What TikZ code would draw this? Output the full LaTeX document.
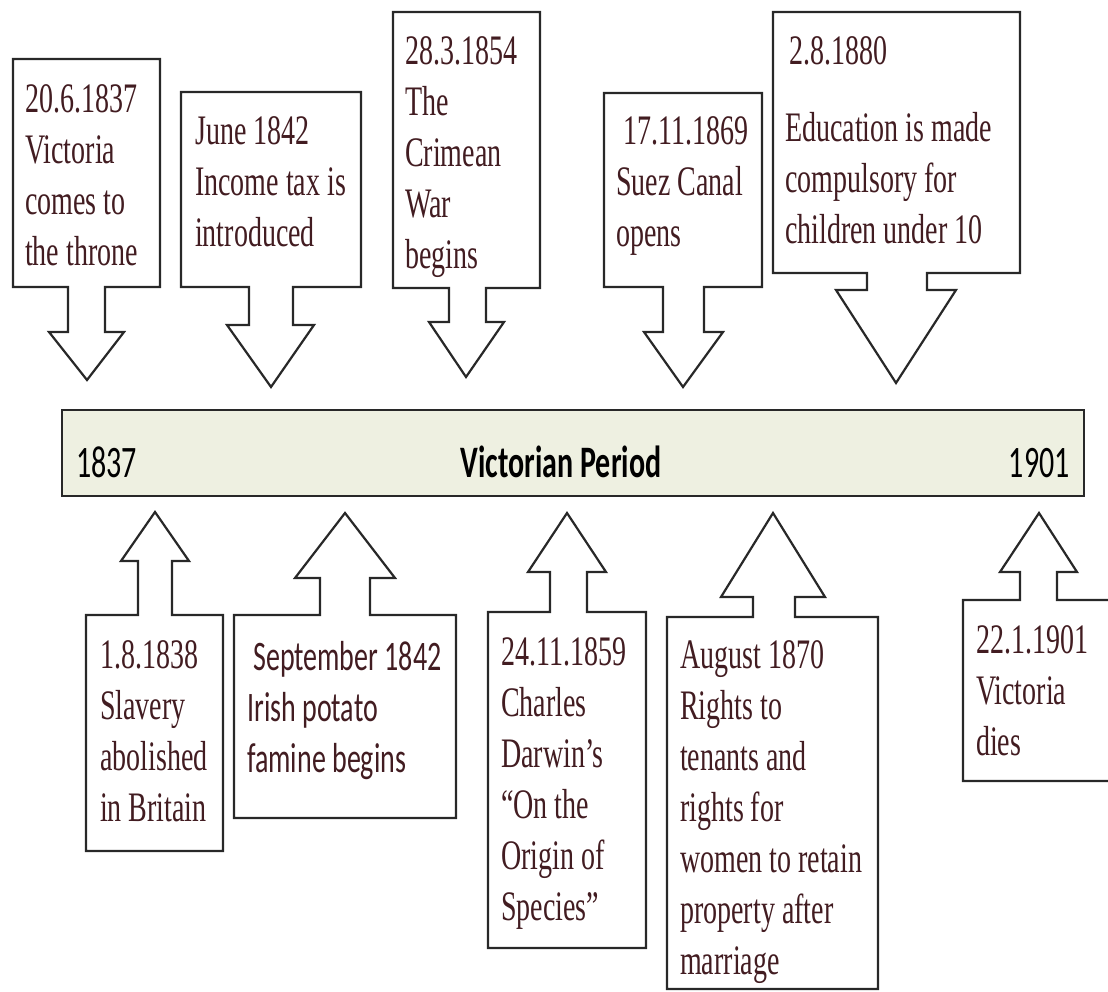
\documentclass[tikz,border=0pt]{standalone}
\usepackage{fontspec}
\setmainfont{Liberation Serif}
\newfontfamily\calfont{Carlito}
\usepackage{graphicx}

\definecolor{evtred}{RGB}{66,28,33}
\definecolor{bargreen}{RGB}{238,240,225}
\definecolor{edge}{RGB}{40,40,40}

% tall narrow lettering, as in the picture
\newcommand{\tall}[1]{\scalebox{1}[1.5]{\begin{tabular}[t]{@{}l@{}}#1\end{tabular}}}

\tikzset{
	callout/.style={draw=edge, line width=2.2pt, fill=white, line join=miter},
	evt/.style={anchor=base west, inner sep=0pt, text=evtred, font=\fontsize{28}{34}\selectfont},
	barlbl/.style={inner sep=0pt, font=\calfont\fontsize{30}{36}\selectfont}
}

\begin{document}
\begin{tikzpicture}[x=1pt, y=-1pt]
	\useasboundingbox (0,0) rectangle (1108,992);
	% time bar
	\draw[draw=edge, line width=2.2pt, fill=bargreen] (62,410) rectangle (1084,496);
	\node[barlbl, anchor=base west] (start) at (76,477) {\tall{1837}};
	\node[barlbl, anchor=base] (period) at (561,477) {\tall{\bfseries Victorian Period}};
	\node[barlbl, anchor=base east] (finish) at (1070,477) {\tall{1901}};
	% callouts above the bar
	\draw[callout] (13,59) -- (160,59) -- (160,287) -- (105,287) -- (105,332) -- (124,332) -- (87,380) -- (49,332) -- (68,332) -- (68,287) -- (13,287) -- cycle;
	\draw[callout] (181,92) -- (361,92) -- (361,287) -- (293,287) -- (293,325) -- (314,325) -- (271,387) -- (227,325) -- (249,325) -- (249,287) -- (181,287) -- cycle;
	\draw[callout] (393,12) -- (540,12) -- (540,288) -- (486,288) -- (486,322) -- (504,322) -- (466,377) -- (429,322) -- (449,322) -- (449,288) -- (393,288) -- cycle;
	\draw[callout] (604,93) -- (762,93) -- (762,287) -- (704,287) -- (704,332) -- (723,332) -- (683,387) -- (644,332) -- (663,332) -- (663,287) -- (604,287) -- cycle;
	\draw[callout] (773,12) -- (1020,12) -- (1020,273) -- (927,273) -- (927,290) -- (956,290) -- (896,383) -- (836,290) -- (867,290) -- (867,273) -- (773,273) -- cycle;
	\node[evt] (throne) at (25,113) {\tall{20.6.1837\\Victoria\\comes to\\the throne}};
	\node[evt] (tax) at (195,145) {\tall{June 1842\\Income tax is\\introduced}};
	\node[evt] (crimea) at (405,65) {\tall{28.3.1854\\The\\Crimean\\War\\begins}};
	\node[evt] (suez) at (616,145) {\tall{\hspace*{7pt}17.11.1869\\Suez Canal\\opens}};
	\node[evt] (school) at (785,65) {\tall{\hspace*{4pt}2.8.1880\\[17pt]Education is made\\compulsory for\\children under 10}};
	% callouts below the bar
	\draw[callout] (86,851) -- (223,851) -- (223,615) -- (172,615) -- (172,561) -- (189,561) -- (155,512) -- (121,561) -- (138,561) -- (138,615) -- (86,615) -- cycle;
	\draw[callout] (234,818) -- (456,818) -- (456,615) -- (370,615) -- (370,578) -- (395,578) -- (345,513) -- (295,578) -- (320,578) -- (320,615) -- (234,615) -- cycle;
	\draw[callout] (488,948) -- (646,948) -- (646,612) -- (587,612) -- (587,572) -- (606,572) -- (567,513) -- (528,572) -- (550,572) -- (550,612) -- (488,612) -- cycle;
	\draw[callout] (667,989) -- (878,989) -- (878,617) -- (795,617) -- (795,597) -- (825,597) -- (773,513) -- (721,597) -- (753,597) -- (753,617) -- (667,617) -- cycle;
	\draw[callout] (963,781) -- (1115,781) -- (1115,600) -- (1057,600) -- (1057,572) -- (1077,572) -- (1039,513) -- (1000,572) -- (1020,572) -- (1020,600) -- (963,600) -- cycle;
	\node[evt] (slavery) at (100,668) {\tall{1.8.1838\\Slavery\\abolished\\in Britain}};
	\node[evt, font=\calfont\fontsize{28}{34}\selectfont] (famine) at (247,670) {\tall{\hspace*{6pt}September 1842\\Irish potato\\famine begins}};
	\node[evt] (darwin) at (501,665) {\tall{24.11.1859\\Charles\\Darwin’s\\“On the\\Origin of\\Species”}};
	\node[evt] (tenants) at (680,668) {\tall{August 1870\\Rights to\\tenants and\\rights for\\women to retain\\property after\\marriage}};
	\node[evt] (dies) at (976,653) {\tall{22.1.1901\\Victoria\\dies}};
\end{tikzpicture}
\end{document}
